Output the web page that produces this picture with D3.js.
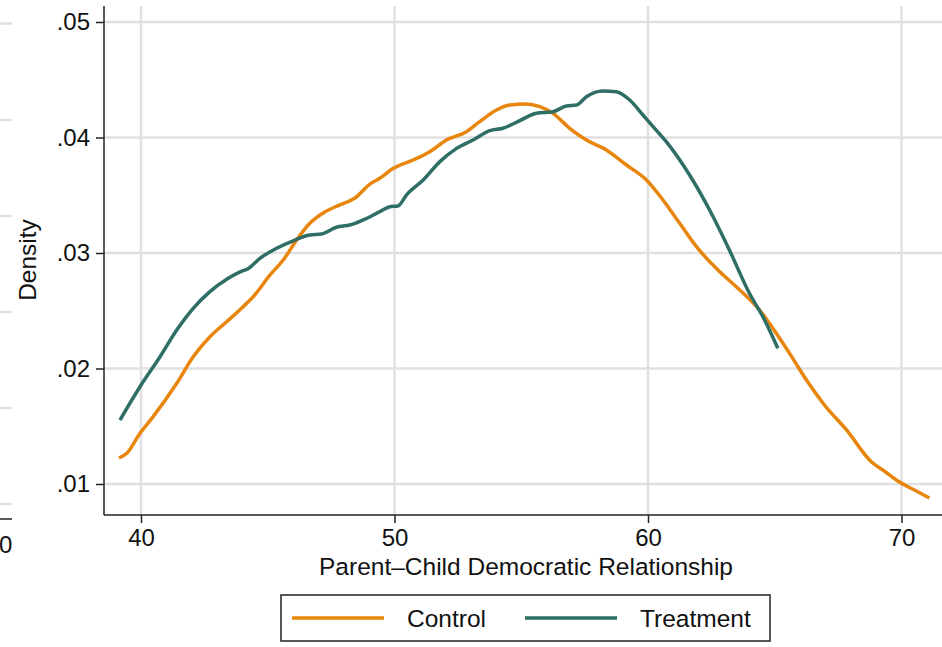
<!DOCTYPE html>
<html lang="en">
<head>
  <meta charset="UTF-8" />
  <title>Kernel density: Control vs Treatment</title>
  <script src="https://d3js.org/d3.v7.min.js"></script>
  <style>
    body {
      margin: 0;
      background: #fff;
      font-family: "Liberation Sans", Arial, Helvetica, sans-serif;
    }
    svg text {
      fill: #111;
    }
  </style>
</head>
<body>
  <div id="chart"></div>

  <script>
    // x ticks and y ticks
    const xTicks = [40, 50, 60, 70];
    const yTicks = [0.01, 0.02, 0.03, 0.04, 0.05];
    const yTickLabels = [".01", ".02", ".03", ".04", ".05"];

    const seriesNames = ["Control", "Treatment"];
    const seriesColors = ["#E8850C", "#2E6E66"];

    // Control density, [score, density]
    const controlData = [
      [39.13, 0.01225], [39.44, 0.01266], [39.96, 0.01439], [40.48, 0.01583],
      [41.41, 0.01872], [42.06, 0.02102], [42.72, 0.02275], [43.38, 0.02405],
      [44.03, 0.02535], [44.43, 0.02622], [45.09, 0.02810], [45.61, 0.02939],
      [46.14, 0.03113], [46.66, 0.03257], [47.25, 0.03355], [47.84, 0.03416],
      [48.44, 0.03476], [49.03, 0.03597], [49.42, 0.03647], [49.95, 0.03733],
      [50.73, 0.03805], [51.39, 0.03877], [52.05, 0.03978], [52.84, 0.04050],
      [53.36, 0.04137], [54.02, 0.04238], [54.55, 0.04281], [55.20, 0.04290],
      [55.73, 0.04267], [56.25, 0.04209], [56.91, 0.04080], [57.57, 0.03978],
      [58.36, 0.03892], [59.15, 0.03762], [59.94, 0.03632], [60.59, 0.03459],
      [61.25, 0.03257], [61.91, 0.03055], [62.83, 0.02838], [63.48, 0.02708],
      [64.40, 0.02506], [65.06, 0.02305], [65.71, 0.02088], [66.25, 0.01900],
      [66.96, 0.01684], [67.83, 0.01468], [68.82, 0.01190], [69.37, 0.01104],
      [69.92, 0.01017], [70.51, 0.00948], [71.10, 0.00879]
    ];

    // Treatment density, [score, density]
    const treatmentData = [
      [39.17, 0.01554], [39.96, 0.01842], [40.75, 0.02102], [41.41, 0.02333],
      [42.06, 0.02521], [42.72, 0.02665], [43.38, 0.02772], [44.03, 0.02847],
      [44.19, 0.02859], [44.69, 0.02954], [45.35, 0.03041], [46.00, 0.03106],
      [46.66, 0.03156], [47.12, 0.03165], [47.71, 0.03223], [48.24, 0.03242],
      [48.76, 0.03286], [49.42, 0.03358], [49.82, 0.03401], [50.14, 0.03407],
      [50.47, 0.03502], [51.13, 0.03632], [51.79, 0.03791], [52.45, 0.03906],
      [53.10, 0.03978], [53.76, 0.04059], [54.28, 0.04080], [54.94, 0.04146],
      [55.60, 0.04210], [56.25, 0.04223], [56.78, 0.04273], [57.18, 0.04281],
      [57.57, 0.04353], [58.22, 0.04403], [58.75, 0.04397], [59.28, 0.04325],
      [59.80, 0.04195], [60.20, 0.04094], [60.72, 0.03964], [61.64, 0.03675],
      [62.43, 0.03372], [63.21, 0.03026], [64.00, 0.02651], [64.53, 0.02449],
      [65.12, 0.02175]
    ];

    // clipped neighbouring panel on the far left
    const stubGridY = [23.5, 120, 216, 312, 408, 504];

    const width = 942;
    const height = 647;
    const plot = { left: 104, right: 942, top: 6, bottom: 515 };

    const svg = d3.select("#chart")
      .append("svg")
      .attr("width", width)
      .attr("height", height);

    const x = d3.scaleLinear()
      .domain([40, 70])
      .range([141, 901.5]);

    const y = d3.scaleLinear()
      .domain([0.01, 0.05])
      .range([484, 22]);

    const gridColor = "#e0e0e0";

    // stub of the panel to the left
    svg.append("g")
      .selectAll("line")
      .data(stubGridY)
      .enter()
      .append("line")
      .attr("x1", 0).attr("x2", 12)
      .attr("y1", d => d).attr("y2", d => d)
      .attr("stroke", gridColor)
      .attr("stroke-width", 2.5);
    svg.append("line")
      .attr("x1", 0).attr("x2", 12)
      .attr("y1", 519).attr("y2", 519)
      .attr("stroke", "#222")
      .attr("stroke-width", 1.5);
    svg.append("text")
      .attr("x", -1)
      .attr("y", 553)
      .attr("font-size", 24)
      .text("0");

    // gridlines
    svg.append("g")
      .selectAll("line")
      .data(yTicks)
      .enter()
      .append("line")
      .attr("x1", plot.left).attr("x2", plot.right)
      .attr("y1", d => y(d)).attr("y2", d => y(d))
      .attr("stroke", gridColor)
      .attr("stroke-width", 2.5);

    svg.append("g")
      .selectAll("line")
      .data(xTicks)
      .enter()
      .append("line")
      .attr("x1", d => x(d)).attr("x2", d => x(d))
      .attr("y1", plot.top).attr("y2", plot.bottom)
      .attr("stroke", gridColor)
      .attr("stroke-width", 2.5);

    // axes
    const yAxis = d3.axisLeft(y)
      .tickValues(yTicks)
      .tickFormat((d, i) => yTickLabels[i])
      .tickSize(8)
      .tickPadding(6);

    const xAxis = d3.axisBottom(x)
      .tickValues(xTicks)
      .tickFormat(d3.format("d"))
      .tickSize(8)
      .tickPadding(6);

    const gy = svg.append("g")
      .attr("transform", `translate(${plot.left},0)`)
      .call(yAxis);
    gy.select(".domain").remove();
    gy.append("line")
      .attr("x1", 0).attr("x2", 0)
      .attr("y1", plot.top).attr("y2", plot.bottom)
      .attr("stroke", "#222")
      .attr("stroke-width", 1.5);

    const gx = svg.append("g")
      .attr("transform", `translate(0,${plot.bottom})`)
      .call(xAxis);
    gx.select(".domain").remove();
    gx.append("line")
      .attr("x1", plot.left).attr("x2", plot.right)
      .attr("y1", 0).attr("y2", 0)
      .attr("stroke", "#222")
      .attr("stroke-width", 1.5);

    svg.selectAll(".tick line")
      .attr("stroke", "#222")
      .attr("stroke-width", 1.5);
    svg.selectAll(".tick text")
      .attr("font-family", "'Liberation Sans', Arial, Helvetica, sans-serif")
      .attr("font-size", 24)
      .attr("fill", "#111");

    // axis titles
    svg.append("text")
      .attr("transform", "translate(36,260) rotate(-90)")
      .attr("text-anchor", "middle")
      .attr("font-size", 24.5)
      .text("Density");

    svg.append("text")
      .attr("x", 526)
      .attr("y", 575)
      .attr("text-anchor", "middle")
      .attr("font-size", 24.5)
      .text("Parent\u2013Child Democratic Relationship");

    // density lines
    const line = d3.line()
      .x(d => x(d[0]))
      .y(d => y(d[1]))
      .curve(d3.curveMonotoneX);

    [controlData, treatmentData].forEach((data, i) => {
      svg.append("path")
        .datum(data)
        .attr("d", line)
        .attr("fill", "none")
        .attr("stroke", seriesColors[i])
        .attr("stroke-width", 3.5)
        .attr("stroke-linejoin", "round");
    });

    // legend
    const legend = svg.append("g");
    legend.append("rect")
      .attr("x", 281).attr("y", 595)
      .attr("width", 489).attr("height", 46)
      .attr("fill", "#fff")
      .attr("stroke", "#222")
      .attr("stroke-width", 1.5);

    const legendX = [292, 525];
    seriesNames.forEach((name, i) => {
      legend.append("line")
        .attr("x1", legendX[i]).attr("x2", legendX[i] + 92)
        .attr("y1", 618).attr("y2", 618)
        .attr("stroke", seriesColors[i])
        .attr("stroke-width", 3.5);
      legend.append("text")
        .attr("x", legendX[i] + 115)
        .attr("y", 627)
        .attr("font-size", 24.5)
        .text(name);
    });
  </script>
</body>
</html>
